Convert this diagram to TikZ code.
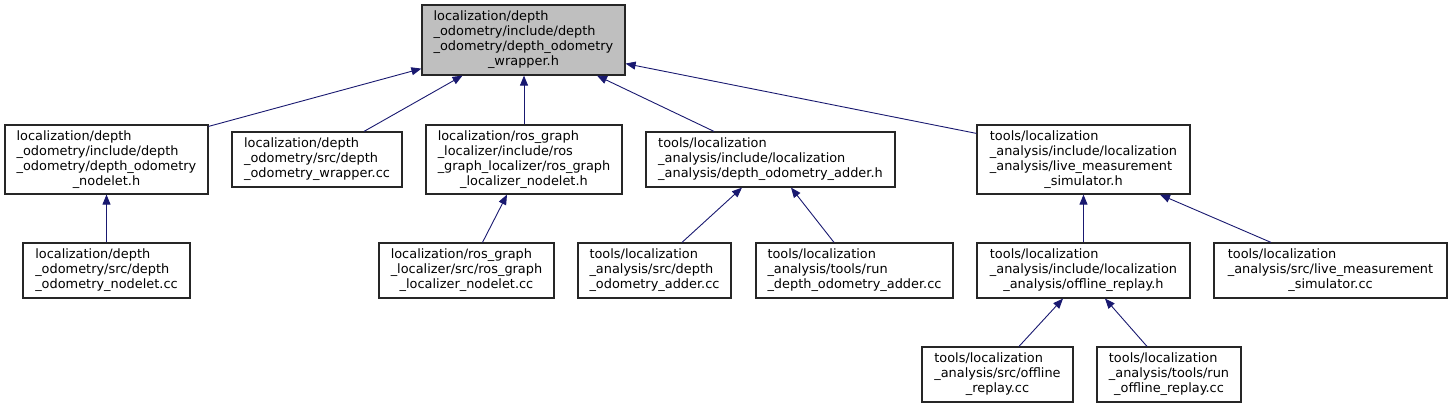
\documentclass[tikz,border=0pt]{standalone}
\usepackage{fontspec}
\setmainfont{DejaVu Sans}
\usetikzlibrary{arrows.meta}
\definecolor{edgeblue}{HTML}{191970}
\definecolor{rootfill}{HTML}{BFBFBF}
\newcommand{\flabel}[2]{\begin{tabular}{@{}l@{}}#1\\\multicolumn{1}{@{}c@{}}{#2}\end{tabular}}
\tikzset{
  filebox/.style={draw=black!85, line width=1.2pt, inner sep=0pt, fill=white,
    font=\fontsize{12.9}{15}\selectfont},
  dep/.style={draw=edgeblue, line width=0.9pt, -{Triangle[length=10pt,width=8pt]}}
}
\begin{document}
\begin{tikzpicture}[x=1pt,y=-1pt]
\useasboundingbox (0,0) rectangle (1452,408);
% row 1
\node[filebox, fill=rootfill, minimum width=203pt, minimum height=70pt] (root) at (523.5,40)
  {\flabel{localization/depth\\\_odometry/include/depth\\\_odometry/depth\_odometry}{\_wrapper.h}};
% row 2
\node[filebox, minimum width=203pt, minimum height=69pt] (A) at (106.5,159.5)
  {\flabel{localization/depth\\\_odometry/include/depth\\\_odometry/depth\_odometry}{\_nodelet.h}};
\node[filebox, minimum width=170pt, minimum height=55pt] (B) at (317,159.5)
  {\flabel{localization/depth\\\_odometry/src/depth}{\_odometry\_wrapper.cc}};
\node[filebox, minimum width=196pt, minimum height=69pt] (C) at (524,159.5)
  {\flabel{localization/ros\_graph\\\_localizer/include/ros\\\_graph\_localizer/ros\_graph}{\_localizer\_nodelet.h}};
\node[filebox, minimum width=249pt, minimum height=55pt] (D) at (770.5,159.5)
  {\flabel{tools/localization\\\_analysis/include/localization}{\_analysis/depth\_odometry\_adder.h}};
\node[filebox, minimum width=213pt, minimum height=69pt] (E) at (1083.5,159.5)
  {\flabel{tools/localization\\\_analysis/include/localization\\\_analysis/live\_measurement}{\_simulator.h}};
% row 3
\node[filebox, minimum width=167pt, minimum height=55pt] (F) at (106.5,270.5)
  {\flabel{localization/depth\\\_odometry/src/depth}{\_odometry\_nodelet.cc}};
\node[filebox, minimum width=175pt, minimum height=55pt] (G) at (466.5,270.5)
  {\flabel{localization/ros\_graph\\\_localizer/src/ros\_graph}{\_localizer\_nodelet.cc}};
\node[filebox, minimum width=153pt, minimum height=55pt] (H) at (654.5,270.5)
  {\flabel{tools/localization\\\_analysis/src/depth}{\_odometry\_adder.cc}};
\node[filebox, minimum width=197pt, minimum height=55pt] (I) at (854.5,270.5)
  {\flabel{tools/localization\\\_analysis/tools/run}{\_depth\_odometry\_adder.cc}};
\node[filebox, minimum width=213pt, minimum height=55pt] (J) at (1083.5,270.5)
  {\flabel{tools/localization\\\_analysis/include/localization}{\_analysis/offline\_replay.h}};
\node[filebox, minimum width=233pt, minimum height=55pt] (K) at (1330.5,270.5)
  {\flabel{tools/localization\\\_analysis/src/live\_measurement}{\_simulator.cc}};
% row 4
\node[filebox, minimum width=151pt, minimum height=55pt] (L) at (997.5,374.5)
  {\flabel{tools/localization\\\_analysis/src/offline}{\_replay.cc}};
\node[filebox, minimum width=144pt, minimum height=55pt] (M) at (1169,374.5)
  {\flabel{tools/localization\\\_analysis/tools/run}{\_offline\_replay.cc}};
% edges
\draw[dep] ([yshift=-2pt]A.north east) -- ([yshift=7pt]root.south west);
\draw[dep] ([xshift=47pt]B.north) -- ([xshift=-61pt]root.south);
\draw[dep] (C.north) -- (C.north |- root.south);
\draw[dep] ([xshift=-56.5pt]D.north) -- ([xshift=73.5pt]root.south);
\draw[dep] ([yshift=-9pt]E.north west) -- ([yshift=12pt]root.south east);
\draw[dep] (F.north) -- (A.south);
\draw[dep] ([xshift=16pt]G.north) -- ([xshift=-17pt]C.south);
\draw[dep] ([xshift=27.5pt]H.north) -- ([xshift=-28.5pt]D.south);
\draw[dep] ([xshift=-20.5pt]I.north) -- ([xshift=20.5pt]D.south);
\draw[dep] (J.north) -- (E.south);
\draw[dep] ([xshift=-59.5pt]K.north) -- ([xshift=76.5pt]E.south);
\draw[dep] ([xshift=21.5pt]L.north) -- ([xshift=-20.5pt]J.south);
\draw[dep] ([xshift=-22pt]M.north) -- ([xshift=21.5pt]J.south);
\end{tikzpicture}
\end{document}
